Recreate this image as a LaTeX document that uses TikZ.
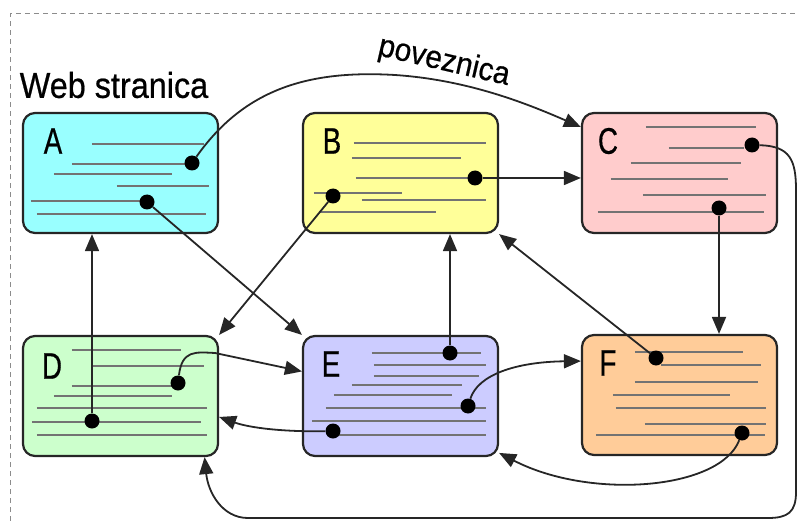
\documentclass[tikz,border=0pt]{standalone}
\usepackage{fontspec}
\setmainfont{Liberation Sans}
\usetikzlibrary{arrows.meta, positioning}
\usepackage{xcolor}

\definecolor{pageA}{RGB}{153,255,255}
\definecolor{pageB}{RGB}{255,255,153}
\definecolor{pageC}{RGB}{255,204,204}
\definecolor{pageD}{RGB}{204,255,204}
\definecolor{pageE}{RGB}{204,204,255}
\definecolor{pageF}{RGB}{255,204,153}

\tikzset{
	page/.style={draw=black!85, line width=2.2pt, rounded corners=12pt, minimum width=195pt, minimum height=120pt, inner sep=0pt},
	letter/.style={font=\fontsize{37}{37}\selectfont\addfontfeature{FakeBold=0.6}, inner sep=0pt},
	txt/.style={black!55, line width=1.8pt},
	dot/.style={circle, fill=black, inner sep=0pt, minimum size=15pt},
	link/.style={black!85, line width=1.8pt, -{Triangle[length=17pt,width=14pt]}}
}

\begin{document}
\begin{tikzpicture}[x=1pt, y=-1pt]
				\useasboundingbox (0,0) rectangle (799,521);
				\draw[black!45, line width=1pt, dash pattern=on 5pt off 4pt] (10,521) -- (10,14) -- (799,14);
				
				% the six pages
				\node[page, fill=pageA] (A) at (120.5,173) {};
				\node[page, fill=pageB] (B) at (400.5,173) {};
				\node[page, fill=pageC] (C) at (679.5,173) {};
				\node[page, fill=pageD] (D) at (120.5,396) {};
				\node[page, fill=pageE] (E) at (400.5,396) {};
				\node[page, fill=pageF] (F) at (679.5,395) {};
				
				\node[letter] (tA) at (53,141) {\scalebox{0.75}[1]{A}};
				\node[letter] (tB) at (332,141) {\scalebox{0.75}[1]{B}};
				\node[letter] (tC) at (608,141) {\scalebox{0.75}[1]{C}};
				\node[letter] (tD) at (52,366) {\scalebox{0.75}[1]{D}};
				\node[letter] (tE) at (331,364) {\scalebox{0.75}[1]{E}};
				\node[letter] (tF) at (608,363) {\scalebox{0.75}[1]{F}};
				
				% text lines
				\begin{scope}[shift={(A.north west)}]
					\foreach \xa/\xb/\yy in {70/182/32, 50/165/52, 32/150/62, 95/187/74, 9/124/89, 15/184/102}
						\draw[txt] (\xa,\yy) -- (\xb,\yy);
				\end{scope}
				\begin{scope}[shift={(B.north west)}]
					\foreach \xa/\xb/\yy in {52/184/31, 50/159/46, 54/172/66, 12/100/81, 60/184/88, 17/134/100}
						\draw[txt] (\xa,\yy) -- (\xb,\yy);
				\end{scope}
				\begin{scope}[shift={(C.north west)}]
					\foreach \xa/\xb/\yy in {65/175/15, 88/163/36, 50/160/51, 30/147/67, 62/185/83, 17/183/100}
						\draw[txt] (\xa,\yy) -- (\xb,\yy);
				\end{scope}
				\begin{scope}[shift={(D.north west)}]
					\foreach \xa/\xb/\yy in {50/159/15, 70/182/31, 50/152/51, 32/150/61, 15/185/73, 10/179/87, 15/185/100}
						\draw[txt] (\xa,\yy) -- (\xb,\yy);
				\end{scope}
				\begin{scope}[shift={(E.north west)}]
					\foreach \xa/\xb/\yy in {70/179/18, 72/184/30, 72/177/41, 50/160/50, 32/150/60, 24/184/73, 10/184/86, 25/184/100}
						\draw[txt] (\xa,\yy) -- (\xb,\yy);
				\end{scope}
				\begin{scope}[shift={(F.north west)}]
					\foreach \xa/\xb/\yy in {54/162/18, 80/180/31, 54/177/48, 32/149/61, 35/185/74, 64/185/90, 15/184/101}
						\draw[txt] (\xa,\yy) -- (\xb,\yy);
				\end{scope}
				
				% link anchors
				\node[dot] (a1) at (192,163) {};
				\node[dot] (a2) at (147,202) {};
				\node[dot] (b1) at (333,196) {};
				\node[dot] (b2) at (475,178) {};
				\node[dot] (c1) at (752,145) {};
				\node[dot] (c2) at (719,208) {};
				\node[dot] (d1) at (178,383) {};
				\node[dot] (d2) at (92,421) {};
				\node[dot] (e1) at (450,353) {};
				\node[dot] (e2) at (468,406) {};
				\node[dot] (e3) at (333,431) {};
				\node[dot] (f1) at (656,358) {};
				\node[dot] (f2) at (742,433) {};
				
				\node (web) at (114,85) {\fontsize{36}{36}\selectfont\addfontfeature{FakeBold=0.6}\scalebox{0.9}[1]{Web stranica}};
				\node[rotate=-13] (poveznica) at (444,62) {\fontsize{32}{32}\selectfont\addfontfeature{FakeBold=0.6}\scalebox{0.93}[1]{poveznica}};
				
				% links
				\draw[link] (a1) .. controls (245,88) and (310,70) .. (395,75) .. controls (470,80) and (530,105) .. (C.155);
				\draw[link] (a2) -- (E.north west);
				\draw[link] (b1) -- (D.north east);
				\draw[link] (b2) -- (b2 -| C.west);
				\draw[link] (c1) .. controls (790,146) and (796,160) .. (796,190) -- (796,492) .. controls (796,512) and (788,518) .. (768,518) -- (248,518) .. controls (222,518) and (208,492) .. (D.-36);
				\draw[link] (c2) -- (c2 |- F.north);
				\draw[link] (d2) -- (d2 |- A.south);
				\draw[link] (d1) .. controls (182,350) and (195,352) .. (215,353) -- (E.166);
				\draw[link] (e1) -- (e1 |- B.south);
				\draw[link] (e2) .. controls (478,375) and (515,362) .. (F.161);
				\draw[link] (e3) .. controls (285,432) and (250,428) .. (D.-12);
				\draw[link] (f1) -- (B.south east);
				\draw[link] (f2) .. controls (720,490) and (590,500) .. (E.-30);
			\end{tikzpicture}
\end{document}
